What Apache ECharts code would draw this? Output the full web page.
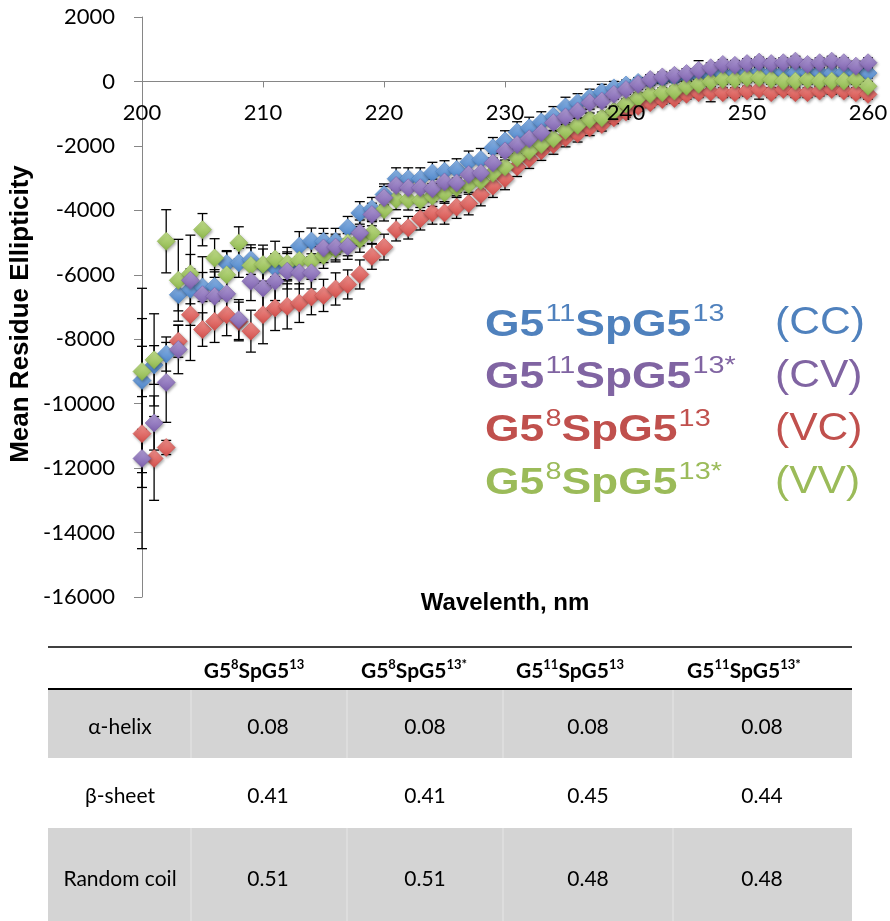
<!DOCTYPE html>
<html>
<head>
<meta charset="utf-8">
<script src="https://cdn.jsdelivr.net/npm/echarts@6/dist/echarts.min.js"></script>
<style>
html,body{margin:0;padding:0;background:#fff;}
#chart{width:890px;height:921px;}
</style>
</head>
<body>
<div id="chart"></div>
<script>
// ---------------- DATA ----------------
const wavelengths = [200,201,202,203,204,205,206,207,208,209,210,211,212,213,214,215,216,217,218,219,220,221,222,223,224,225,226,227,228,229,230,231,232,233,234,235,236,237,238,239,240,241,242,243,244,245,246,247,248,249,250,251,252,253,254,255,256,257,258,259,260];

const valuesCC = [-9280,-8800,-8460,-6620,-6450,-6380,-6360,-5650,-5630,-5530,-5700,-5800,-5740,-5110,-4950,-4960,-4960,-4540,-4080,-3950,-3510,-3020,-3020,-3020,-2840,-2790,-2730,-2500,-2420,-2060,-1850,-1570,-1440,-1260,-1080,-790,-660,-500,-330,-200,-110,-30,40,90,130,170,200,220,240,260,250,280,270,280,270,290,270,260,280,270,260];
const valuesCV = [-11700,-10600,-9340,-8320,-6170,-6620,-6670,-6590,-7390,-6200,-6410,-6200,-5890,-5940,-5940,-5170,-5140,-5120,-4700,-4130,-3610,-3230,-3300,-3300,-3330,-3120,-3150,-2890,-2840,-2530,-2160,-1960,-1780,-1590,-1280,-1100,-920,-660,-610,-400,-250,-90,60,140,190,245,345,425,528,500,555,600,555,581,630,528,581,630,581,475,581];
const valuesVC = [-10930,-11700,-11360,-8060,-7240,-7700,-7450,-7240,-7450,-7750,-7240,-7030,-6980,-6880,-6690,-6640,-6440,-6300,-5990,-5430,-5140,-4600,-4540,-4260,-4080,-4080,-3900,-3790,-3510,-3250,-3010,-2650,-2400,-2150,-1960,-1750,-1620,-1440,-1340,-1130,-950,-770,-660,-560,-530,-400,-350,-330,-350,-350,-300,-250,-350,-250,-350,-350,-300,-250,-300,-350,-400];
const valuesVV = [-9000,-8640,-4960,-6170,-5970,-4600,-5480,-6000,-5010,-5710,-5680,-5510,-5650,-5550,-5580,-5400,-5200,-5010,-4900,-4700,-3980,-3660,-3670,-3690,-3560,-3460,-3300,-3200,-3080,-2850,-2650,-2370,-2160,-1960,-1780,-1520,-1360,-1180,-1130,-920,-700,-510,-400,-350,-300,-150,-90,0,60,60,115,115,60,10,10,60,10,10,10,60,-150];

const errorsCC = [2860,600,530,500,450,450,450,400,450,460,500,450,450,450,400,400,400,350,350,350,330,340,340,340,330,330,330,340,340,320,320,320,330,320,300,300,280,260,240,200,150,150,150,150,150,150,150,150,150,150,150,150,150,150,150,150,150,150,150,150,150];
const errorsCV = [900,840,1240,750,1400,1180,830,600,620,600,700,600,550,500,500,450,400,400,400,350,350,300,300,300,300,300,300,300,300,300,280,280,280,280,260,240,220,200,180,150,150,150,150,150,150,150,300,150,150,150,150,150,150,150,150,150,150,150,150,150,150];
const errorsVC = [3570,1300,220,500,1420,520,650,650,600,650,900,700,700,600,550,500,500,450,450,400,400,350,350,350,350,350,350,350,350,350,350,300,300,300,300,280,260,240,200,180,150,150,150,150,150,150,150,300,150,150,150,300,150,150,150,150,150,150,150,150,150];
const errorsVV = [780,1430,980,1270,600,500,600,720,500,550,600,550,500,450,450,400,400,400,400,350,350,320,320,320,320,320,300,300,300,300,300,280,280,280,260,240,220,200,180,150,150,150,150,150,150,150,150,150,150,150,150,150,150,150,150,150,150,150,150,150,150];

const seriesNames = ['G5¹¹SpG5¹³ (CC)','G5¹¹SpG5¹³* (CV)','G5⁸SpG5¹³ (VC)','G5⁸SpG5¹³* (VV)'];
const legendLabels = ['{m|G5}{s|11}{m|SpG5}{s|13}','{m|G5}{s|11}{m|SpG5}{s|13*}','{m|G5}{s|8}{m|SpG5}{s|13}','{m|G5}{s|8}{m|SpG5}{s|13*}'];
const legendCodes = ['(CC)','(CV)','(VC)','(VV)'];

const xTickMin = 200, xTickMax = 260, xTickStep = 10;
const yTickMin = -16000, yTickMax = 2000, yTickStep = 2000;
const yAxisTitle = 'Mean Residue Ellipticity';
const xAxisTitle = 'Wavelenth, nm';

const tableHeaders = ['{b|G5}{s|8}{b|SpG5}{s|13}','{b|G5}{s|8}{b|SpG5}{s|13*}','{b|G5}{s|11}{b|SpG5}{s|13}','{b|G5}{s|11}{b|SpG5}{s|13*}'];
const tableRowLabels = ['α-helix','β-sheet','Random coil'];
const tableHelix = ['0.08','0.08','0.08','0.08'];
const tableSheet = ['0.41','0.41','0.45','0.44'];
const tableCoil = ['0.51','0.51','0.48','0.48'];

// ---------------- STYLE ----------------
const textColors = ['#4F81BD','#8064A2','#C0504D','#9BBB59'];
const markerTop = ['#8DB5E6','#B29FD6','#F0918D','#C4DF8E'];
const markerBottom = ['#4C84C8','#7C5FAD','#D24F4B','#8DB74C'];
const allValues = [valuesCC, valuesCV, valuesVC, valuesVV];
const allErrors = [errorsCC, errorsCV, errorsVC, errorsVV];
const drawOrder = [0, 2, 3, 1];

const axisFont = 'Lato, "Liberation Sans", sans-serif';
const titleFont = '"Liberation Sans", Arial, sans-serif';

const gridTop = 17, gridBottomPx = 597;
const zeroPx = gridTop + (yTickMax - 0) / (yTickMax - yTickMin) * (gridBottomPx - gridTop);

function errorRender(params, api) {
  const x = api.value(0), y = api.value(1), e = api.value(2);
  const top = api.coord([x, y + e]);
  const bot = api.coord([x, y - e]);
  const w = 5;
  const st = {stroke: '#000', lineWidth: 1.3};
  return {
    type: 'group',
    children: [
      {type: 'line', shape: {x1: top[0], y1: top[1], x2: bot[0], y2: bot[1]}, style: st},
      {type: 'line', shape: {x1: top[0] - w, y1: top[1], x2: top[0] + w, y2: top[1]}, style: st},
      {type: 'line', shape: {x1: bot[0] - w, y1: bot[1], x2: bot[0] + w, y2: bot[1]}, style: st}
    ]
  };
}

const series = [];
drawOrder.forEach(function (k) {
  series.push({
    type: 'custom',
    name: seriesNames[k] + ' error',
    renderItem: errorRender,
    xAxisIndex: 0,
    encode: {x: 0, y: 1},
    data: wavelengths.map(function (w, i) { return [w, allValues[k][i], allErrors[k][i]]; }),
    silent: true,
    animation: false
  });
  series.push({
    type: 'scatter',
    name: seriesNames[k],
    xAxisIndex: 0,
    symbol: 'diamond',
    symbolSize: 18,
    data: wavelengths.map(function (w, i) { return [w, allValues[k][i]]; }),
    itemStyle: {
      color: {type: 'linear', x: 0, y: 0, x2: 0, y2: 1,
        colorStops: [{offset: 0, color: markerTop[k]}, {offset: 1, color: markerBottom[k]}]},
      borderColor: markerBottom[k],
      borderWidth: 0.6,
      shadowBlur: 3,
      shadowOffsetX: 1,
      shadowOffsetY: 1.5,
      shadowColor: 'rgba(0,0,0,0.35)',
      opacity: 1
    },
    animation: false
  });
});

// ---------------- GRAPHICS (legend, axis titles, table) ----------------
const graphics = [];
graphics.push({
  type: 'text', x: 21, y: 314, rotation: Math.PI / 2,
  style: {text: yAxisTitle, font: 'bold 26px ' + titleFont, fill: '#000', align: 'center', verticalAlign: 'middle'}
});
graphics.push({
  type: 'text', x: 505, y: 603,
  style: {text: xAxisTitle, font: 'bold 24px ' + titleFont, fill: '#000', align: 'center', verticalAlign: 'middle'}
});

const legendY0 = 323, legendDy = 52.7;
legendLabels.forEach(function (lab, i) {
  graphics.push({
    type: 'text', x: 485, y: legendY0 + i * legendDy, scaleX: 1.2, scaleY: 1,
    style: {
      text: lab, align: 'left', verticalAlign: 'middle',
      rich: {
        m: {fontFamily: titleFont, fontWeight: 'bold', fontSize: 37, fill: textColors[i], lineHeight: 42, verticalAlign: 'bottom'},
        s: {fontFamily: titleFont, fontSize: 24, fill: textColors[i], lineHeight: 42, verticalAlign: 'top', padding: [0, 0, 0, 1]}
      }
    }
  });
  graphics.push({
    type: 'text', x: 775, y: legendY0 + i * legendDy + 1, scaleX: 1.12, scaleY: 1,
    style: {text: legendCodes[i], font: '38px ' + titleFont, fill: textColors[i], align: 'left', verticalAlign: 'middle'}
  });
});

// table
const tblL = 48, tblR = 852;
const colBounds = [48, 191, 347, 503, 673, 852];
const colCenters = [120, 268, 425, 588, 762];
const headerCenters = [254, 414, 570, 744];
const rowTops = [689, 758, 828];
const rowBottoms = [758, 828, 921];
const rowText = [727, 796, 879];
const rowFill = ['#D4D4D4', '#FFFFFF', '#D4D4D4'];
const tableRows = [tableHelix, tableSheet, tableCoil];
const tblFont = 'Lato, "Liberation Sans", sans-serif';

rowTops.forEach(function (t, r) {
  graphics.push({type: 'rect', shape: {x: tblL, y: t, width: tblR - tblL, height: rowBottoms[r] - t}, style: {fill: rowFill[r]}});
  if (rowFill[r] !== '#FFFFFF') {
    for (let c = 1; c < colBounds.length - 1; c++) {
      graphics.push({type: 'line', shape: {x1: colBounds[c], y1: t, x2: colBounds[c], y2: rowBottoms[r]}, style: {stroke: '#E6E6E6', lineWidth: 1}});
    }
  }
  graphics.push({type: 'text', x: colCenters[0], y: rowText[r],
    style: {text: tableRowLabels[r], font: '21px ' + tblFont, fill: '#000', align: 'center', verticalAlign: 'middle'}});
  tableRows[r].forEach(function (v, c) {
    graphics.push({type: 'text', x: colCenters[c + 1], y: rowText[r],
      style: {text: v, font: '21px ' + tblFont, fill: '#000', align: 'center', verticalAlign: 'middle'}});
  });
});
graphics.push({type: 'line', shape: {x1: tblL, y1: 647, x2: tblR, y2: 647}, style: {stroke: '#000', lineWidth: 1.5}});
graphics.push({type: 'line', shape: {x1: tblL, y1: 689, x2: tblR, y2: 689}, style: {stroke: '#000', lineWidth: 2}});
tableHeaders.forEach(function (h, c) {
  graphics.push({type: 'text', x: headerCenters[c], y: 670,
    style: {text: h, align: 'center', verticalAlign: 'middle',
      rich: {
        b: {fontFamily: tblFont, fontWeight: 'bold', fontSize: 21, fill: '#000', lineHeight: 24, verticalAlign: 'bottom'},
        s: {fontFamily: tblFont, fontWeight: 'bold', fontSize: 13, fill: '#000', lineHeight: 24, verticalAlign: 'top'}
      }}});
});

// ---------------- CHART ----------------
const xAxisBase = {
  type: 'value', min: xTickMin, max: xTickMax, interval: xTickStep,
  position: 'bottom',
  offset: -(gridBottomPx - zeroPx),
  splitLine: {show: false}
};
const xLabelStyle = {color: '#000', fontSize: 22, fontFamily: axisFont, margin: 20, formatter: function (v) { return String(v); }};

const chart = echarts.init(document.getElementById('chart'), null, {renderer: 'canvas'});
chart.setOption({
  backgroundColor: '#fff',
  animation: false,
  grid: {left: 142, right: 22, top: gridTop, bottom: 921 - gridBottomPx, containLabel: false, outerBoundsMode: 'none'},
  xAxis: [
    Object.assign({}, xAxisBase, {
      axisLine: {onZero: false, lineStyle: {color: '#868686', width: 1}},
      axisTick: {show: true, length: 6, lineStyle: {color: '#868686'}},
      axisLabel: Object.assign({}, xLabelStyle, {show: false})
    }),
    Object.assign({}, xAxisBase, {
      z: 10,
      axisLine: {show: false, onZero: false},
      axisTick: {show: false},
      axisLabel: xLabelStyle
    })
  ],
  yAxis: {
    type: 'value', min: yTickMin, max: yTickMax, interval: yTickStep,
    axisLine: {show: true, lineStyle: {color: '#868686', width: 1}},
    axisTick: {show: true, length: 8, lineStyle: {color: '#868686'}},
    axisLabel: {color: '#000', fontSize: 22, fontFamily: axisFont, margin: 27, formatter: function (v) { return String(v); }},
    splitLine: {show: false}
  },
  legend: {show: false},
  tooltip: {show: false},
  series: series,
  graphic: graphics
});
</script>
</body>
</html>
